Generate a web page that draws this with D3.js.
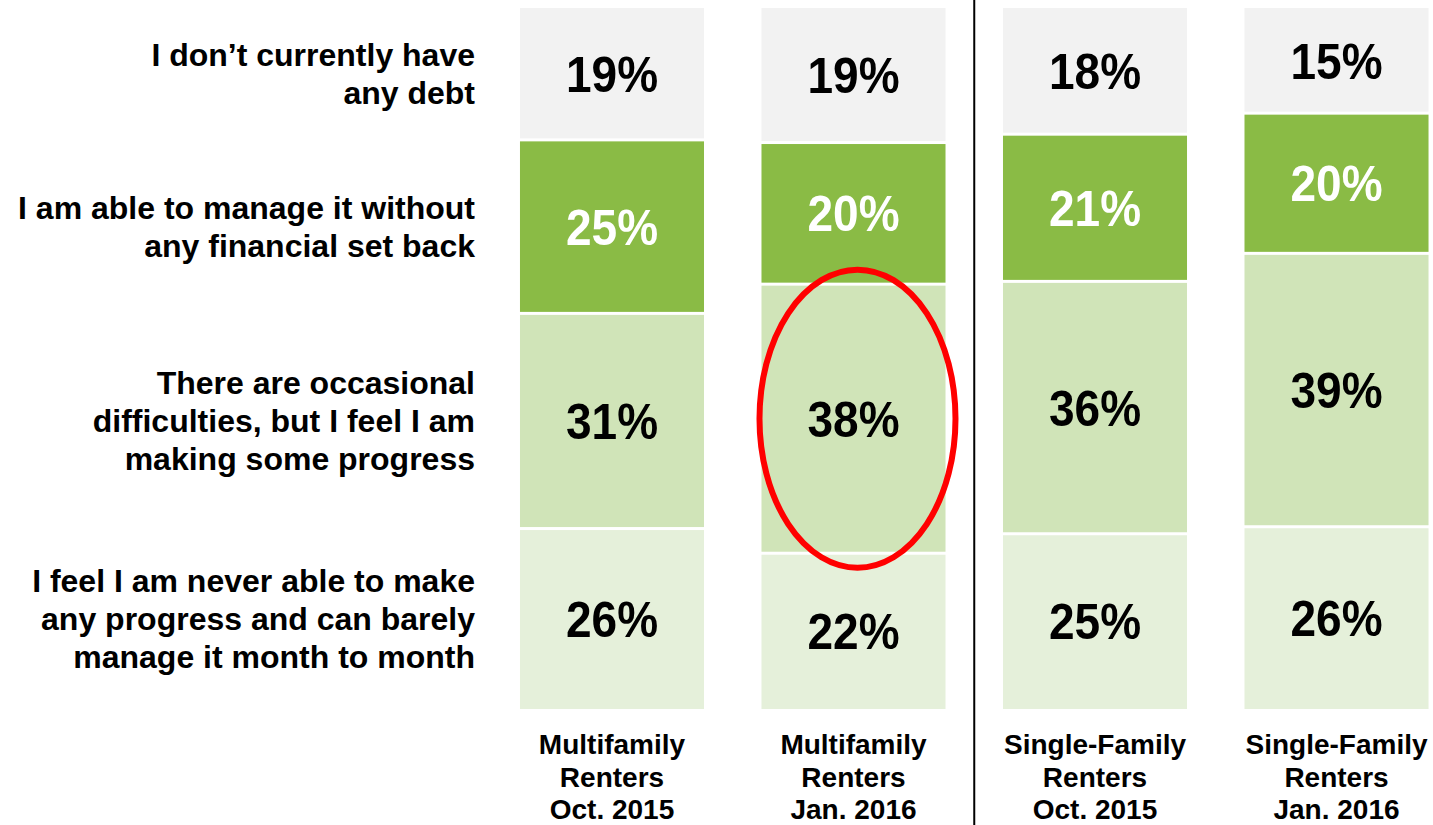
<!DOCTYPE html>
<html><head><meta charset="utf-8">
<script src="https://cdn.jsdelivr.net/npm/d3@7"></script>
<style>body{margin:0;background:#fff}svg{display:block}text{font-family:"Liberation Sans",Arial,sans-serif;font-weight:bold}</style>
</head><body>
<svg id="c" width="1433" height="825"></svg>
<script>
const groups = ["mfOct15","mfJan16","sfOct15","sfJan16"];
const groupLabels = [
  ["Multifamily","Renters","Oct. 2015"],
  ["Multifamily","Renters","Jan. 2016"],
  ["Single-Family","Renters","Oct. 2015"],
  ["Single-Family","Renters","Jan. 2016"]
];
const responses = ["noDebt","manage","progress","never"];
const responseLabels = [
  ["I don\u2019t currently have","any debt"],
  ["I am able to manage it without","any financial set back"],
  ["There are occasional","difficulties, but I feel I am","making some progress"],
  ["I feel I am never able to make","any progress and can barely","manage it month to month"]
];
const noDebt   = [19,19,18,15];
const manage   = [25,20,21,20];
const progress = [31,38,36,39];
const never    = [26,22,25,26];
const colors = ["#f2f2f2","#8abb45","#d0e4b8","#e5f0da"];
const textColors = ["#000","#fff","#000","#000"];
const highlight = {group:"mfJan16", response:"progress"};

const rows = groups.map((g,i)=>({group:g, noDebt:noDebt[i], manage:manage[i], progress:progress[i], never:never[i]}));
const stack = d3.stack().keys(responses).offset(d3.stackOffsetExpand);
const series = stack(rows);

const svg = d3.select("#c");
const x = d3.scaleBand().domain(groups).range([462.5,1486]).paddingInner(0.238).paddingOuter(0.238);
const y = d3.scaleLinear().domain([0,1]).range([8,709]);
const gap = 1.5;

series.forEach((s,si)=>{
  const g = svg.append("g");
  g.selectAll("rect").data(s).join("rect")
    .attr("x", d=>x(d.data.group))
    .attr("width", x.bandwidth())
    .attr("y", d=>y(d[0]) + (si>0?gap:0))
    .attr("height", d=>y(d[1])-y(d[0]) - (si>0?gap:0) - (si<series.length-1?gap:0))
    .attr("fill", colors[si]);
  const fs = 46;
  g.selectAll("text").data(s).join("text")
    .attr("transform", d=>`translate(${x(d.data.group)+x.bandwidth()/2},${(y(d[0])+y(d[1]))/2 + 0.716*fs*1.09/2}) scale(1,1.09)`)
    .attr("text-anchor","middle")
    .attr("font-size", fs)
    .attr("fill", textColors[si])
    .text(d=>d.data[responses[si]]+"%");
});

// left response labels, centered on first bar's segments
const lfs = 32, lh = 38;
series.forEach((s,si)=>{
  const d = s[0];
  const cy = (y(d[0])+y(d[1]))/2;
  const lines = responseLabels[si];
  const t = svg.append("text").attr("text-anchor","end").attr("font-size",lfs).attr("fill","#000");
  lines.forEach((ln,li)=>{
    t.append("tspan").attr("x",475)
      .attr("y", cy + (li-(lines.length-1)/2)*lh + 0.716*lfs/2)
      .text(ln);
  });
});

// group labels
const gfs = 28, glh = 32.5;
groups.forEach((g,i)=>{
  const t = svg.append("text").attr("text-anchor","middle").attr("font-size",gfs).attr("fill","#000");
  groupLabels[i].forEach((ln,li)=>{
    t.append("tspan").attr("x", x(g)+x.bandwidth()/2).attr("y", 754 + li*glh).text(ln);
  });
});

// divider between multifamily and single-family
const divX = (x(groups[1])+x.bandwidth()+x(groups[2]))/2;
svg.append("line").attr("x1",divX).attr("x2",divX).attr("y1",0).attr("y2",825)
  .attr("stroke","#000").attr("stroke-width",2);

// red highlight ellipse
const hs = series[responses.indexOf(highlight.response)];
const hd = hs[groups.indexOf(highlight.group)];
svg.append("ellipse")
  .attr("cx", x(highlight.group)+x.bandwidth()/2+4)
  .attr("cy", (y(hd[0])+y(hd[1]))/2)
  .attr("rx", 98).attr("ry", 149)
  .attr("fill","none").attr("stroke","#ff0000").attr("stroke-width",6);
</script>
</body></html>
